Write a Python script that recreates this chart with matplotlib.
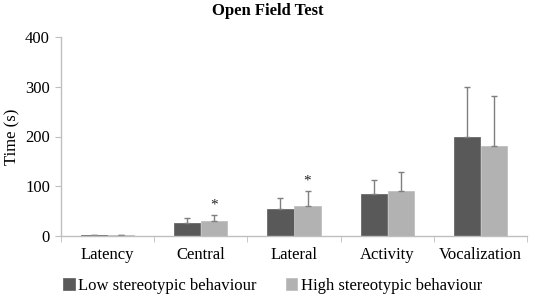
import matplotlib
matplotlib.use("Agg")
import matplotlib.pyplot as plt
import numpy as np

categories = ["Latency", "Central", "Lateral", "Activity", "Vocalization"]
low_vals = [2, 27, 55, 84, 200]
low_err = [0.5, 9, 22, 28, 100]
high_vals = [2, 31, 61, 91, 180]
high_err = [0.5, 12, 30, 37, 102]
star_cats = ["Central", "Lateral"]
series_names = ["Low stereotypic behaviour", "High stereotypic behaviour"]
yticks = [0, 100, 200, 300, 400]

plt.rcParams['font.family'] = ['Liberation Serif', 'DejaVu Serif']

fig = plt.figure(figsize=(5.36, 2.99), dpi=100)
ax = fig.add_axes([61/536, 1-236/299, (527-61)/536, (236-37)/299])

x = np.arange(len(categories))
w = 0.28
dark = "#595959"
light = "#b2b2b2"
errc = "#7f7f7f"

b1 = ax.bar(x - w/2 - 0.005, low_vals, w, color=dark, edgecolor="#6a6a6a", linewidth=0.6,
            yerr=[np.zeros(len(low_err)), low_err], error_kw=dict(ecolor=errc, elinewidth=1.0, capsize=2.5, capthick=1.0),
            label=series_names[0])
b2 = ax.bar(x + w/2 + 0.005, high_vals, w, color=light, edgecolor="#c0c0c0", linewidth=0.6,
            yerr=[np.zeros(len(high_err)), high_err], error_kw=dict(ecolor=errc, elinewidth=1.0, capsize=2.5, capthick=1.0),
            label=series_names[1])

for c in star_cats:
    i = categories.index(c)
    ax.text(i + w/2 + 0.005, high_vals[i] + high_err[i] + 6, "*", ha="center", va="bottom", fontsize=11, color="#222222")

ax.set_xlim(-0.5, len(categories) - 0.5)
ax.set_ylim(0, 400)
ax.set_yticks(yticks)
ax.set_xticks(x)
ax.set_xticklabels(categories, fontsize=12)
ax.set_xticks(np.arange(len(categories) + 1) - 0.5, minor=True)
ax.tick_params(axis='x', which='major', length=0, pad=8)
ax.tick_params(axis='x', which='minor', length=4, color="#bfbfbf", direction='out')
ax.tick_params(axis='y', length=4, color="#bfbfbf", labelsize=12, pad=4)
for s in ["top", "right"]:
    ax.spines[s].set_visible(False)
for s in ["left", "bottom"]:
    ax.spines[s].set_color("#bfbfbf")
    ax.spines[s].set_linewidth(1.0)

ax.set_ylabel("Time (s)", fontsize=12, va="center")
ax.yaxis.set_label_coords((12 - 61) / 466, 0.5)
fig.text(0.5, 1 - 11/299, "Open Field Test", ha="center", va="center", fontsize=12, fontweight="bold")

fig.legend(handles=[b1, b2], labels=series_names, loc="center left", bbox_to_anchor=(63/536, 1 - 286/299),
           ncol=2, frameon=False, fontsize=12, handlelength=0.7, handleheight=0.7, handletextpad=0.2,
           columnspacing=1.75, borderpad=0, borderaxespad=0)

fig.savefig("out.png", dpi=100)
